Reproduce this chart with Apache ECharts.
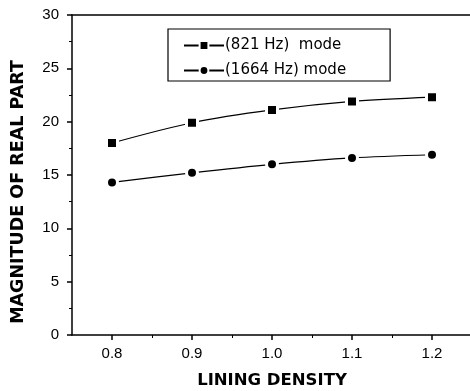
<!DOCTYPE html>
<html><head><meta charset="utf-8">
<script src="https://cdn.jsdelivr.net/npm/echarts@6/dist/echarts.min.js"></script>
<style>html,body{margin:0;padding:0;background:#fff}#c{width:470px;height:391px}</style>
</head><body><div id="c"></div>
<script>
const density = [0.8, 0.9, 1.0, 1.1, 1.2];
const mode821 = [18.0, 19.9, 21.1, 21.9, 22.3];
const mode1664 = [14.3, 15.2, 16.0, 16.6, 16.9];
const seriesNames = ['(821 Hz)  mode', '(1664 Hz) mode'];
const xMajorTicks = [0.8, 0.9, 1.0, 1.1, 1.2];
const xMinorTicks = [0.85, 0.95, 1.05, 1.15, 1.25];

const chart = echarts.init(document.getElementById('c'));
const font = 'Liberation Sans, Arial, sans-serif';
const pair = a => density.map((x, i) => [x, a[i]]);
chart.setOption({
  animation: false,
  grid: {left: 72, right: -2, top: 15, bottom: 56, outerBoundsMode: 'none', containLabel: false},
  legend: {
    orient: 'vertical', left: 168, top: 29,
    padding: [9, 44, 3, 15], itemGap: 10,
    borderColor: '#000', borderWidth: 1.2,
    itemWidth: 40, itemHeight: 11,
    textStyle: {fontFamily: 'DejaVu Sans', fontSize: 15, color: '#000', padding: [0, 0, 0, -4]},
    data: seriesNames
  },
  xAxis: [{
    type: 'value', min: 0.75, max: 1.25, position: 'bottom',
    axisLine: {show: true, lineStyle: {color: '#000', width: 1.5}},
    axisTick: {show: true, customValues: xMajorTicks, length: 5, lineStyle: {color: '#000', width: 1.5}},
    axisLabel: {customValues: xMajorTicks, color: '#000', fontFamily: font, fontSize: 15, margin: 11,
      formatter: v => v.toFixed(1)},
    splitLine: {show: false},
    name: 'LINING DENSITY', nameLocation: 'middle', nameGap: 37,
    nameTextStyle: {fontFamily: 'DejaVu Sans', fontWeight: 'bold', fontSize: 16.5, color: '#000'}
  }, {
    type: 'value', min: 0.75, max: 1.25, position: 'bottom',
    axisLine: {show: false},
    axisTick: {show: true, customValues: xMinorTicks, length: 3, lineStyle: {color: '#000', width: 1}},
    axisLabel: {show: false}, splitLine: {show: false}
  }, {
    type: 'value', min: 0.75, max: 1.25, position: 'top',
    axisLine: {show: true, lineStyle: {color: '#000', width: 1.5}},
    axisTick: {show: false}, axisLabel: {show: false}, splitLine: {show: false}
  }],
  yAxis: {
    type: 'value', min: 0, max: 30, interval: 5,
    axisLine: {show: true, lineStyle: {color: '#000', width: 1.5}},
    axisTick: {show: true, length: 5, lineStyle: {color: '#000', width: 1.5}},
    minorTick: {show: true, splitNumber: 2, length: 3, lineStyle: {color: '#000', width: 1}},
    axisLabel: {color: '#000', fontFamily: font, fontSize: 15, margin: 13},
    splitLine: {show: false},
    name: 'MAGNITUDE OF REAL PART', nameLocation: 'middle', nameGap: 45,
    nameTextStyle: {fontFamily: 'DejaVu Sans', fontWeight: 'bold', fontSize: 17.5, color: '#000',
      padding: [0, 34, 0, 0]}
  },
  series: [{
    name: seriesNames[0], type: 'line', data: pair(mode821), smooth: 0.3,
    symbol: 'rect', symbolSize: 11,
    lineStyle: {color: '#000', width: 1.2},
    itemStyle: {color: '#000', borderColor: '#fff', borderWidth: 3}
  }, {
    name: seriesNames[1], type: 'line', data: pair(mode1664), smooth: 0.3,
    symbol: 'circle', symbolSize: 11,
    lineStyle: {color: '#000', width: 1.2},
    itemStyle: {color: '#000', borderColor: '#fff', borderWidth: 3}
  }]
});
</script></body></html>
